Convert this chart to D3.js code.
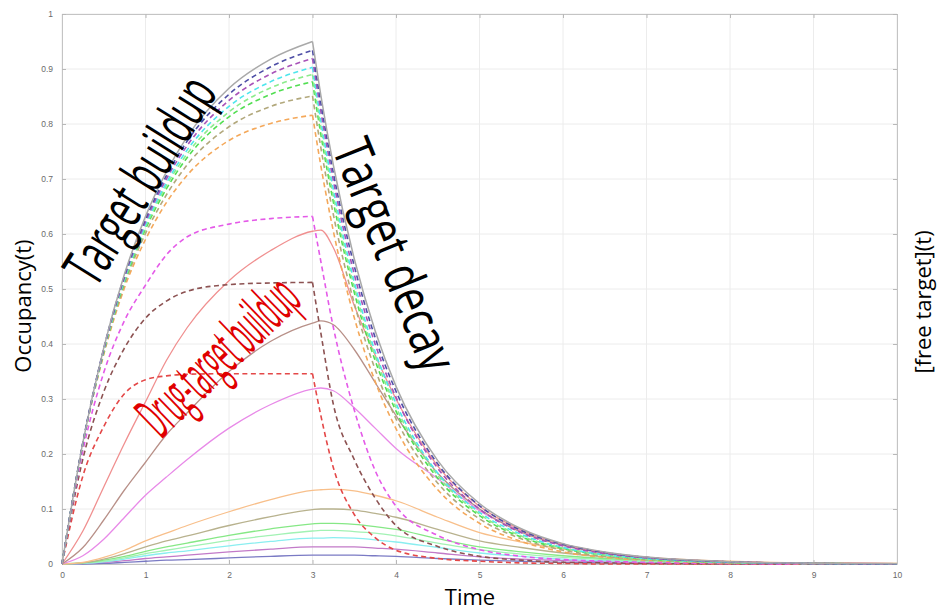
<!DOCTYPE html>
<html><head><meta charset="utf-8">
<script src="https://cdn.jsdelivr.net/npm/d3@7"></script>
<style>body{margin:0;background:#fff;} svg{display:block;}</style>
</head><body><svg id="c" width="938" height="610"></svg>
<script>
// ---------------- data ----------------
const times = [0,0.25,0.5,0.75,1,1.25,1.5,2,2.5,3,3.1,3.25,3.5,3.75,4,4.5,5,5.5,6,6.5,7,8,9,10];

const grayTotal   = [0,.221,.393,.528,.632,.713,.777,.865,.918,.95, .852,.725,.555,.424,.323,.188,.11,.064,.037,.022,.0126,.0043,.0015,.0005];

// free target (dashed)
const navyFree    = [0,.221,.392,.525,.627,.706,.769,.854,.904,.934, .838,.711,.542,.412,.314,.182,.106,.061,.036,.021,.012,.004,.001,0];
const purpleFree  = [0,.220,.390,.522,.622,.700,.761,.843,.891,.919, .823,.697,.527,.400,.303,.174,.100,.057,.033,.019,.011,.004,.001,0];
const cyanFree    = [0,.220,.389,.519,.617,.693,.753,.832,.877,.903, .806,.681,.513,.386,.292,.165,.094,.054,.030,.017,.010,.003,.001,0];
const lgreenFree  = [0,.219,.388,.517,.613,.688,.746,.822,.866,.890, .794,.669,.504,.378,.285,.161,.091,.051,.029,.016,.009,.003,.001,0];
const greenFree   = [0,.219,.386,.514,.609,.682,.739,.813,.854,.877, .781,.658,.494,.370,.278,.156,.088,.049,.028,.016,.009,.003,.001,0];
const oliveFree   = [0,.219,.384,.509,.601,.671,.726,.795,.832,.851, .757,.635,.474,.354,.264,.147,.082,.046,.025,.014,.008,.002,.001,0];
const orangeFree  = [0,.218,.381,.503,.590,.657,.707,.770,.801,.816, .724,.605,.448,.332,.246,.135,.074,.041,.022,.012,.007,.002,.001,0];
const magentaFree = [0,.206,.348,.443,.507,.562,.595,.618,.628,.632, .550,.430,.280,.170,.105,.052,.026,.014,.008,.005,.003,.001,0,0];
const brownFree   = [0,.191,.313,.393,.447,.478,.496,.508,.511,.512, .420,.290,.190,.120,.070,.032,.014,.007,.003,.002,.001,0,0,0];
const redFree     = [0,.160,.250,.310,.335,.342,.345,.346,.346,.346, .270,.175,.090,.048,.025,.010,.005,.002,.001,0,0,0,0,0];

// occupancy (solid)
const salmonOcc   = [0,.060,.140,.220,.295,.370,.430,.515,.570,.605, .607,.575,.470,.380,.300,.178,.105,.062,.036,.021,.012,.004,.0015,.0005];
const brownOcc    = [0,.030,.080,.135,.185,.235,.275,.350,.405,.438, .442,.435,.390,.330,.270,.165,.100,.058,.034,.020,.012,.004,.0015,.0005];
const violetOcc   = [0,.015,.045,.085,.125,.158,.190,.247,.290,.318, .320,.315,.284,.247,.210,.155,.097,.060,.034,.020,.012,.004,.0015,.0005];
const orangeOcc   = [0,.003,.012,.025,.042,.056,.070,.095,.117,.134, .135,.136,.133,.125,.115,.085,.057,.040,.027,.018,.012,.005,.002,.001];
const oliveOcc    = [0,.002,.009,.019,.031,.042,.051,.070,.086,.099, .100,.100,.098,.092,.085,.063,.042,.030,.020,.013,.009,.004,.001,.001];
const greenOcc    = [0,.002,.007,.014,.023,.031,.038,.052,.064,.073, .074,.074,.072,.068,.063,.046,.031,.022,.015,.010,.007,.003,.001,0];
const lgreenOcc   = [0,.002,.005,.011,.019,.025,.031,.043,.052,.060, .061,.061,.059,.056,.051,.038,.026,.018,.012,.008,.005,.002,.001,0];
const cyanOcc     = [0,.001,.004,.009,.015,.020,.024,.033,.041,.047, .047,.048,.047,.044,.040,.030,.020,.014,.009,.006,.004,.002,.001,0];
const purpleOcc   = [0,.001,.003,.006,.010,.013,.016,.022,.027,.031, .031,.031,.031,.029,.027,.020,.013,.009,.006,.004,.003,.001,0,0];
const navyOcc     = [0,0,.001,.003,.005,.007,.008,.011,.014,.016, .016,.016,.016,.015,.014,.010,.007,.005,.003,.002,.001,.001,0,0];

const xTickValues = [0,1,2,3,4,5,6,7,8,9,10];
const xTickLabels = ["0","1","2","3","4","5","6","7","8","9","10"];
const yTickValues = [0,0.1,0.2,0.3,0.4,0.5,0.6,0.7,0.8,0.9,1];
const yTickLabels = ["0","0.1","0.2","0.3","0.4","0.5","0.6","0.7","0.8","0.9","1"];

const xLabel = "Time";
const yLabel = "Occupancy(t)";
const y2Label = "[free target](t)";
const notes = ["Target buildup", "Target decay", "Drug-target buildup"];

// ---------------- drawing ----------------
const svg = d3.select("#c");
const x = d3.scaleLinear().domain([0,10]).range([62,897]);
const y = d3.scaleLinear().domain([0,1]).range([564,14]);

// grid
const grid = svg.append("g");
grid.selectAll(".gx").data(xTickValues).join("line")
  .attr("x1",d=>x(d)).attr("x2",d=>x(d)).attr("y1",y(0)).attr("y2",y(1))
  .attr("stroke","#ececec").attr("stroke-width",1);
grid.selectAll(".gy").data(yTickValues).join("line")
  .attr("y1",d=>y(d)).attr("y2",d=>y(d)).attr("x1",x(0)).attr("x2",x(10))
  .attr("stroke","#ececec").attr("stroke-width",1);

function styleAxis(g){
  g.select(".domain").attr("stroke","#c4c4c4");
  g.selectAll(".tick line").attr("stroke","#b8b8b8");
  g.selectAll(".tick text").attr("fill","#6a6a6a").style("font-family","Liberation Sans, Arial, sans-serif").style("font-size","8.5px");
}
svg.append("g").attr("transform",`translate(0,${y(0)})`)
  .call(d3.axisBottom(x).tickValues(xTickValues).tickFormat((d,i)=>xTickLabels[i]).tickSizeInner(-4).tickSizeOuter(0).tickPadding(8))
  .call(styleAxis);
svg.append("g").attr("transform",`translate(0,${y(1)})`)
  .call(d3.axisTop(x).tickValues(xTickValues).tickFormat("").tickSizeInner(-4).tickSizeOuter(0))
  .call(styleAxis);
svg.append("g").attr("transform",`translate(${x(0)},0)`)
  .call(d3.axisLeft(y).tickValues(yTickValues).tickFormat((d,i)=>yTickLabels[i]).tickSizeInner(-4).tickSizeOuter(0).tickPadding(9))
  .call(styleAxis);
svg.append("g").attr("transform",`translate(${x(10)},0)`)
  .call(d3.axisRight(y).tickValues(yTickValues).tickFormat("").tickSizeInner(-4).tickSizeOuter(0))
  .call(styleAxis);

const line = d3.line().x(d=>x(d[0])).y(d=>y(d[1])).curve(d3.curveMonotoneX);
const plot = svg.append("g");

const solids = [
  {v: navyOcc,   c:"#7a7ac4"},
  {v: purpleOcc, c:"#c27ac8"},
  {v: cyanOcc,   c:"#8aeef0"},
  {v: lgreenOcc, c:"#a2f2b4"},
  {v: greenOcc,  c:"#86e886"},
  {v: oliveOcc,  c:"#b8b28e"},
  {v: orangeOcc, c:"#f8bf8a"},
  {v: violetOcc, c:"#e88ae8"},
  {v: brownOcc,  c:"#b89088"},
  {v: salmonOcc, c:"#f09090"}
];
const dashed = [
  {v: redFree,     c:"#e44848"},
  {v: brownFree,   c:"#8c5252"},
  {v: magentaFree, c:"#e45ae8"},
  {v: orangeFree,  c:"#f4a85a"},
  {v: oliveFree,   c:"#b2a87c"},
  {v: greenFree,   c:"#52de52"},
  {v: lgreenFree,  c:"#8ceb8c"},
  {v: cyanFree,    c:"#4ee6ec"},
  {v: purpleFree,  c:"#a852b8"},
  {v: navyFree,    c:"#4e4ea6"}
];

solids.forEach(s=>{
  const pts = times.map((t,i)=>[t, s.v[i]]);
  plot.append("path").attr("d", line(pts)).attr("fill","none")
    .attr("stroke", s.c).attr("stroke-width",1.3);
});
dashed.forEach(s=>{
  const pts = times.map((t,i)=>[t, s.v[i]]);
  [pts.slice(0,10), pts.slice(9)].forEach(seg=>{
    plot.append("path").attr("d", line(seg)).attr("fill","none")
      .attr("stroke", s.c).attr("stroke-width",1.6).attr("stroke-dasharray","5,3.5");
  });
});
{
  const pts = times.map((t,i)=>[t, grayTotal[i]]);
  [pts.slice(0,10), pts.slice(9)].forEach(seg=>{
    plot.append("path").attr("d", line(seg)).attr("fill","none")
      .attr("stroke","#a9a9a9").attr("stroke-width",1.5);
  });
}

// axis labels
const lf = "Open Sans, Noto Sans, sans-serif";
svg.append("text").attr("x",470).attr("y",605).attr("text-anchor","middle")
  .style("font-family",lf).style("font-size","22px").attr("fill","#000").text(xLabel);
svg.append("text").attr("transform","translate(31,306) rotate(-90)").attr("text-anchor","middle")
  .style("font-family",lf).style("font-size","22px").attr("fill","#000").text(yLabel);
svg.append("text").attr("transform","translate(931,302) rotate(-90)").attr("text-anchor","middle")
  .style("font-family",lf).style("font-size","22px").attr("fill","#000").text(y2Label);

// annotations
function note(txt, cx, cy, ang, fs, len, col){
  svg.append("text").attr("transform",`translate(${cx},${cy}) rotate(${ang})`)
    .attr("text-anchor","middle").attr("dy","0.35em")
    .attr("textLength",len).attr("lengthAdjust","spacingAndGlyphs")
    .style("font-family",lf).style("font-size",fs+"px").attr("fill",col).text(txt);
}
note(notes[0], 140, 180, -58, 58, 232, "#000");
note(notes[1], 395, 255, 68, 54, 245, "#000");
note(notes[2], 218, 356, -44, 60, 198, "#e00000");
</script></body></html>
